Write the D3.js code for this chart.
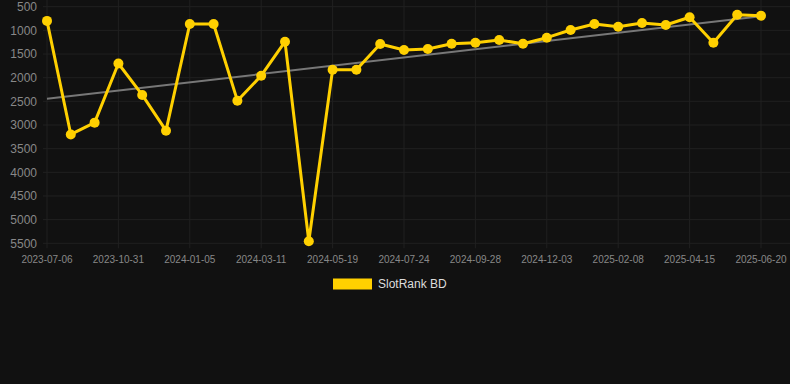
<!DOCTYPE html>
<html>
<head>
<meta charset="utf-8">
<script src="https://cdn.jsdelivr.net/npm/d3@7"></script>
<style>
  html, body { margin: 0; padding: 0; background: #111111; }
  svg { display: block; font-family: "Liberation Sans", Arial, sans-serif; }
</style>
</head>
<body>
<svg id="chart" width="790" height="384"></svg>
<script>
// rank values, one per snapshot (31 points)
const ranks = [800, 3200, 2950, 1700, 2365, 3120, 866, 866, 2486, 1958, 1240, 5457,
  1831, 1831, 1288, 1415, 1394, 1282, 1261, 1204, 1282, 1155, 992, 866, 923, 844,
  887, 724, 1261, 669, 690];
// only every third date is printed on the axis
const tickIndex = [0, 3, 6, 9, 12, 15, 18, 21, 24, 27, 30];
const tickDates = ["2023-07-06", "2023-10-31", "2024-01-05", "2024-03-11", "2024-05-19",
  "2024-07-24", "2024-09-28", "2024-12-03", "2025-02-08", "2025-04-15", "2025-06-20"];
const yTicks = [500, 1000, 1500, 2000, 2500, 3000, 3500, 4000, 4500, 5000, 5500];
const seriesName = "SlotRank BD";

const svg = d3.select("#chart");
const gold = "#ffd000";
const gridColor = "#202020";
const labelColor = "#888888";

const plotLeft = 43, plotRight = 790, plotTop = 6.7, plotBottom = 243.3;

let x = d3.scaleLinear().domain([0, ranks.length - 1]).range([47, 761]);
let y = d3.scaleLinear().domain([500, 5500]).range([plotTop, plotBottom]);

// horizontal grid + y labels
svg.append("g")
  .selectAll("line")
  .data(yTicks)
  .join("line")
  .attr("x1", plotLeft).attr("x2", plotRight)
  .attr("y1", d => y(d)).attr("y2", d => y(d))
  .attr("stroke", gridColor).attr("stroke-width", 1);

svg.append("g")
  .selectAll("text")
  .data(yTicks)
  .join("text")
  .attr("x", 37)
  .attr("y", d => y(d))
  .attr("dy", "0.35em")
  .attr("text-anchor", "end")
  .attr("fill", labelColor)
  .style("font-size", "12px")
  .text(d => d);

// vertical grid at labelled dates
svg.append("g")
  .selectAll("line")
  .data(tickIndex)
  .join("line")
  .attr("x1", d => x(d)).attr("x2", d => x(d))
  .attr("y1", 0).attr("y2", plotBottom + 5)
  .attr("stroke", gridColor).attr("stroke-width", 1);

svg.append("g")
  .selectAll("text")
  .data(tickIndex)
  .join("text")
  .attr("x", d => x(d))
  .attr("y", 263)
  .attr("text-anchor", "middle")
  .attr("fill", labelColor)
  .style("font-size", "10px")
  .text((d, i) => tickDates[i]);

// linear trend through the points (least squares)
const n = ranks.length;
const mx = d3.mean(ranks, (d, i) => i);
const my = d3.mean(ranks);
let sxy = 0, sxx = 0;
ranks.forEach((d, i) => { sxy += (i - mx) * (d - my); sxx += (i - mx) * (i - mx); });
const slope = sxy / sxx;
const icpt = my - slope * mx;

svg.append("line")
  .attr("x1", x(0)).attr("y1", y(icpt))
  .attr("x2", x(n - 1)).attr("y2", y(icpt + slope * (n - 1)))
  .attr("stroke", "#777777")
  .attr("stroke-width", 2);

// main series
const line = d3.line()
  .x((d, i) => x(i))
  .y(d => y(d));

svg.append("path")
  .datum(ranks)
  .attr("d", line)
  .attr("fill", "none")
  .attr("stroke", gold)
  .attr("stroke-width", 3)
  .attr("stroke-linejoin", "round");

svg.append("g")
  .selectAll("circle")
  .data(ranks)
  .join("circle")
  .attr("cx", (d, i) => x(i))
  .attr("cy", d => y(d))
  .attr("r", 5)
  .attr("fill", gold);

// legend
svg.append("rect")
  .attr("x", 333).attr("y", 278.5)
  .attr("width", 39).attr("height", 11)
  .attr("fill", gold);

svg.append("text")
  .attr("x", 378).attr("y", 284)
  .attr("dy", "0.35em")
  .attr("fill", "#dddddd")
  .style("font-size", "12px")
  .text(seriesName);
</script>
</body>
</html>
